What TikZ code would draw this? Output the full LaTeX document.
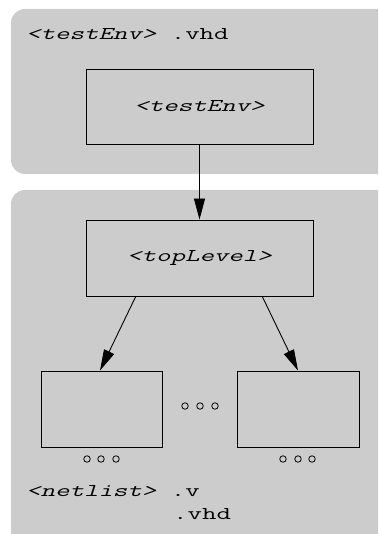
\documentclass[tikz,border=0pt]{standalone}
\usepackage{fontspec}
\usepackage{graphicx}
\newfontfamily\mono{Latin Modern Mono}
\newfontfamily\monosl[FakeSlant=0.2]{Latin Modern Mono}
\newcommand{\wide}[1]{\scalebox{1.56}[1]{#1}}
\newcommand{\slt}[1]{{\monosl #1}}
\usetikzlibrary{arrows.meta,calc}
\definecolor{panelgray}{HTML}{CCCCCC}
\tikzset{
  panel/.style={fill=panelgray, draw=none, rounded corners=14pt},
  blk/.style={draw=black, line width=0.9pt, fill=panelgray, inner sep=0pt},
  lbl/.style={inner sep=0pt, anchor=base west, font=\mono\fontsize{18}{23}\selectfont},
  boxtext/.style={font=\mono\fontsize{18}{23}\selectfont},
  conn/.style={line width=0.9pt, -{Triangle[length=21pt,width=11pt]}},
  dot/.style={circle, draw=black, line width=0.8pt, minimum size=6.5pt, inner sep=0pt}
}
\begin{document}
\begin{tikzpicture}[x=1pt,y=-1pt]
\useasboundingbox (0,0) rectangle (378,534);
\clip (0,0) rectangle (378,534);
% panels
\path[panel] (11,9) rectangle (395,174);
\path[panel] (11,190) rectangle (395,548);
% boxes
\node[blk, minimum width=227pt, minimum height=75pt] (testenv) at (199.5,106.5) {};
\node[boxtext] (testenvtxt) at (testenv.center) {\wide{\slt{<testEnv>}}};
\node[blk, minimum width=227pt, minimum height=76pt] (toplevel) at (199.5,258) {};
\node[boxtext] (topleveltxt) at (toplevel.center) {\wide{\slt{<topLevel>}}};
\node[blk, minimum width=121pt, minimum height=76pt] (left) at (101.5,409) {};
\node[blk, minimum width=122pt, minimum height=76pt] (right) at (298,409) {};
% ellipsis dots
\foreach \i/\x in {1/185,2/200,3/215} { \node[dot] (m\i) at (\x,406) {}; }
\foreach \i/\x in {1/87,2/101,3/116} { \node[dot] (l\i) at (\x,459) {}; }
\foreach \i/\x in {1/283,2/298,3/312} { \node[dot] (r\i) at (\x,459) {}; }
% labels
\node[lbl] (toplbl) at (26,40) {\wide{\slt{<testEnv>} .vhd}};
\node[lbl] (netlbl) at (26,496) {\wide{\slt{<netlist>} .v}};
\node[lbl] (netlbl2) at (173,519) {\wide{.vhd}};
% connectors
\draw[conn] (testenv.south) -- (toplevel.north);
\coordinate (tlL) at ($(toplevel.south west)!0.2203!(toplevel.south east)$);
\coordinate (tlR) at ($(toplevel.south west)!0.7753!(toplevel.south east)$);
\coordinate (lN) at ($(left.north west)!0.4876!(left.north east)$);
\coordinate (rN) at ($(right.north west)!0.5!(right.north east)$);
\draw[conn] (tlL) -- (lN);
\draw[conn] (tlR) -- (rN);
\end{tikzpicture}
\end{document}
